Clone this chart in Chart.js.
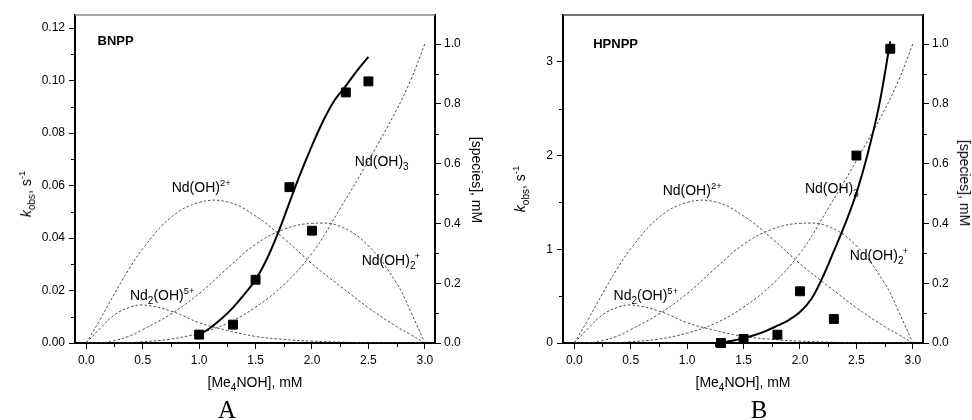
<!DOCTYPE html>
<html>
<head>
<meta charset="utf-8">
<script src="https://cdn.jsdelivr.net/npm/chart.js@4.4.0/dist/chart.umd.min.js"></script>
<style>
  body { margin:0; background:#fff; width:972px; height:420px; overflow:hidden; position:relative;
         font-family:"Liberation Sans", Arial, sans-serif; }
  canvas { position:absolute; top:0; }
  .t { position:absolute; white-space:nowrap; color:#000; font-size:14px; line-height:14px; }
  .sub { position:relative; top:3.5px; font-size:10px; }
  .sup { position:relative; top:-6px; font-size:9.5px; }
  .bold { font-weight:bold; font-size:13px; line-height:13px; }
  .panel { font-family:"Liberation Serif", "Times New Roman", serif; font-size:25px; line-height:25px; }
</style>
</head>
<body>
<canvas id="chartA" width="486" height="420" style="left:0px"></canvas>
<canvas id="chartB" width="486" height="420" style="left:488px"></canvas>
<script>
// ---- axis ticks ----
const xTicks = [0, 0.5, 1.0, 1.5, 2.0, 2.5, 3.0];
const xMinorTicks = [0.25, 0.75, 1.25, 1.75, 2.25, 2.75];
const speciesTicks = [0, 0.2, 0.4, 0.6, 0.8, 1.0];
const speciesMinorTicks = [0.1, 0.3, 0.5, 0.7, 0.9];
const kTicksBNPP = [0, 0.02, 0.04, 0.06, 0.08, 0.10, 0.12];
const kMinorTicksBNPP = [0.01, 0.03, 0.05, 0.07, 0.09, 0.11];
const kTicksHPNPP = [0, 1, 2, 3];
const kMinorTicksHPNPP = [0.5, 1.5, 2.5];

// ---- species distribution, mM (same in both panels) ----
const speciesX   = [0, 0.125, 0.25, 0.375, 0.5, 0.75, 1.0, 1.25, 1.5, 1.75, 2.0, 2.25, 2.5, 2.75, 2.875, 3.0];
const ndOH       = [0, 0.08, 0.165, 0.245, 0.315, 0.42, 0.47, 0.472, 0.425, 0.35, 0.265, 0.19, 0.118, 0.055, 0.028, 0];
const ndOH2      = [0, 0, 0.008, 0.022, 0.045, 0.097, 0.165, 0.25, 0.33, 0.38, 0.40, 0.39, 0.325, 0.20, 0.105, 0];
const ndOH3      = [0, 0, 0, 0.001, 0.004, 0.013, 0.033, 0.066, 0.12, 0.195, 0.30, 0.45, 0.61, 0.78, 0.88, 1.0];
const nd2OH      = [0, 0.05, 0.094, 0.118, 0.127, 0.107, 0.068, 0.042, 0.022, 0.012, 0.006, 0.003, 0.001, 0, 0, 0];

// ---- BNPP kinetics ----
const bnppX = [1.0, 1.3, 1.5, 1.8, 2.0, 2.3, 2.5];
const bnppK = [0.0032, 0.0070, 0.0241, 0.0594, 0.0428, 0.0955, 0.0997];
const bnppFitX = [1.0, 1.1, 1.2, 1.3, 1.4, 1.5, 1.6, 1.7, 1.8, 1.9, 2.0, 2.1, 2.2, 2.3, 2.4, 2.5];
const bnppFitK = [0.003, 0.0058, 0.0093, 0.0135, 0.0185, 0.0241, 0.032, 0.042, 0.0535, 0.0648, 0.0752, 0.0847, 0.0925, 0.098, 0.1038, 0.109];

// ---- HPNPP kinetics ----
const hpnppX = [1.3, 1.5, 1.8, 2.0, 2.3, 2.5, 2.8];
const hpnppK = [0.0, 0.043, 0.089, 0.552, 0.256, 2.0, 3.14];
const hpnppFitX = [1.3, 1.4, 1.5, 1.6, 1.7, 1.8, 1.9, 2.0, 2.1, 2.2, 2.3, 2.4, 2.5, 2.6, 2.7, 2.8];
const hpnppFitK = [0.005, 0.025, 0.052, 0.085, 0.13, 0.185, 0.245, 0.33, 0.47, 0.70, 0.98, 1.27, 1.60, 2.02, 2.53, 3.22];

const xy = (xs, ys) => xs.map((x, i) => ({ x: x, y: ys[i] }));

// frame top edge and minor tick marks
const framePlugin = {
  id: 'frame',
  afterDraw(chart, args, opts) {
    const ctx = chart.ctx, a = chart.chartArea, s = chart.scales;
    ctx.save();
    ctx.strokeStyle = opts.topColor;
    ctx.lineWidth = 1.5;
    ctx.beginPath(); ctx.moveTo(a.left, a.top); ctx.lineTo(a.right, a.top); ctx.stroke();
    ctx.strokeStyle = '#000';
    ctx.lineWidth = 1;
    ctx.beginPath();
    for (const v of xMinorTicks) {
      const p = Math.round(s.x.getPixelForValue(v)) + 0.5;
      ctx.moveTo(p, a.bottom); ctx.lineTo(p, a.bottom + 4);
    }
    for (const v of opts.kMinor) {
      const p = Math.round(s.y.getPixelForValue(v)) + 0.5;
      ctx.moveTo(a.left, p); ctx.lineTo(a.left - 4, p);
    }
    for (const v of speciesMinorTicks) {
      const p = Math.round(s.y2.getPixelForValue(v)) + 0.5;
      ctx.moveTo(a.right, p); ctx.lineTo(a.right + 4, p);
    }
    ctx.stroke();
    ctx.restore();
  }
};

const tickFont = { family: '"Liberation Sans", Arial, sans-serif', size: 12 };
const axisGrid = { drawOnChartArea: false, drawTicks: true, tickLength: 6, color: '#000', lineWidth: 1 };
const axisBorder = { display: true, color: '#000', width: 2 };

function speciesSet(values) {
  return { data: xy(speciesX, values), yAxisID: 'y2', showLine: true, borderColor: '#3a3a3a',
           borderWidth: 0.9, borderDash: [2.5, 2], pointRadius: 0, tension: 0.4, fill: false };
}

function makePanel(id, cfg) {
  return new Chart(document.getElementById(id), {
    type: 'scatter',
    data: {
      datasets: [
        { data: xy(cfg.px, cfg.pk), yAxisID: 'y', showLine: false, pointStyle: 'rect',
          pointRadius: 6.3, pointBackgroundColor: '#000', pointBorderColor: '#000',
          pointBorderWidth: 1, clip: false },
        { data: xy(cfg.fx, cfg.fk), yAxisID: 'y', showLine: true, borderColor: '#000',
          borderWidth: 2, pointRadius: 0, tension: 0.4, fill: false },
        speciesSet(ndOH), speciesSet(ndOH2), speciesSet(ndOH3), speciesSet(nd2OH)
      ]
    },
    options: {
      responsive: false, animation: false, devicePixelRatio: 1,
      layout: { padding: { top: 15, left: 0, right: 0, bottom: 0 } },
      plugins: { legend: { display: false }, tooltip: { enabled: false },
                 frame: { topColor: cfg.topColor, kMinor: cfg.kMinor } },
      scales: {
        x: {
          type: 'linear', position: 'bottom', min: -0.1, max: 3.09,
          afterFit: s => { s.height = 77; },
          afterBuildTicks: s => { s.ticks = xTicks.map(v => ({ value: v })); },
          ticks: { autoSkip: false, maxRotation: 0, padding: 4, color: '#000', font: tickFont,
                   callback: v => Number(v).toFixed(1) },
          grid: axisGrid, border: axisBorder
        },
        y: {
          type: 'linear', position: 'left', min: 0, max: cfg.kMax,
          afterFit: s => { s.width = 75; },
          afterBuildTicks: s => { s.ticks = cfg.kTicks.map(v => ({ value: v })); },
          ticks: { autoSkip: false, padding: 4, color: '#000', font: tickFont,
                   callback: v => Number(v).toFixed(cfg.kDigits) },
          grid: axisGrid, border: axisBorder
        },
        y2: {
          type: 'linear', position: 'right', min: 0, max: 1.097,
          afterFit: s => { s.width = 51; },
          afterBuildTicks: s => { s.ticks = speciesTicks.map(v => ({ value: v })); },
          ticks: { autoSkip: false, padding: 3, color: '#000', font: tickFont,
                   callback: v => Number(v).toFixed(1) },
          grid: axisGrid, border: axisBorder
        }
      }
    },
    plugins: [framePlugin]
  });
}

const chartA = makePanel('chartA', {
  px: bnppX, pk: bnppK, fx: bnppFitX, fk: bnppFitK,
  kTicks: kTicksBNPP, kMinor: kMinorTicksBNPP, kMax: 0.125, kDigits: 2, topColor: '#8a8a8a'
});
const chartB = makePanel('chartB', {
  px: hpnppX, pk: hpnppK, fx: hpnppFitX, fk: hpnppFitK,
  kTicks: kTicksHPNPP, kMinor: kMinorTicksHPNPP, kMax: 3.5, kDigits: 0, topColor: '#444'
});

// ---- text: axis titles, species names, panel letters ----
function addText(html, cls, left, top, transform) {
  const d = document.createElement('div');
  d.className = 't ' + (cls || '');
  d.innerHTML = html;
  d.style.left = left + 'px';
  d.style.top = top + 'px';
  if (transform) d.style.transform = transform;
  document.body.appendChild(d);
  return d;
}

const ndOHLabel  = 'Nd(OH)<span class="sup">2+</span>';
const ndOH2Label = 'Nd(OH)<span class="sub">2</span><span class="sup" style="margin-left:-1px">+</span>';
const ndOH3Label = 'Nd(OH)<span class="sub">3</span>';
const nd2OHLabel = 'Nd<span class="sub">2</span>(OH)<span class="sup">5+</span>';
const kTitle = '<i>k</i><span class="sub">obs</span>, s<span class="sup">-1</span>';
const xTitle = '[Me<span class="sub">4</span>NOH], mM';
const speciesTitle = '[species], mM';

function decorate(chart, offset, notes, letter, letterX, kTitleDx, kTitleCy, spTitleCy) {
  const a = chart.chartArea, sx = chart.scales.x, sy = chart.scales.y2;
  const base = fs => 0.8465 * fs;
  // text anchored at its left baseline, in data units of the species axis
  for (const n of notes) {
    const fs = n.bold ? 13 : 14;
    addText(n.html, n.bold ? 'bold' : '', offset + sx.getPixelForValue(n.x),
            sy.getPixelForValue(n.y) - base(fs));
  }
  const cx = offset + (a.left + a.right) / 2;
  addText(xTitle, '', cx, 387 - base(14), 'translateX(-50%)');
  addText(kTitle, '', offset + a.left - kTitleDx, kTitleCy - 7, 'translate(-50%,0) rotate(-90deg)');
  addText(speciesTitle, '', offset + a.right + 42, spTitleCy - 7, 'translate(-50%,0) rotate(90deg)');
  addText(letter, 'panel', offset + letterX, 418 - 0.8375 * 25, 'translateX(-50%)');
}

decorate(chartA, 0, [
  { html: 'BNPP', x: 0.10, y: 0.997, bold: true },
  { html: ndOHLabel, x: 0.757, y: 0.507 },
  { html: ndOH3Label, x: 2.38, y: 0.592 },
  { html: ndOH2Label, x: 2.44, y: 0.261 },
  { html: nd2OHLabel, x: 0.387, y: 0.144 }
], 'A', 227, 48, 193, 180);

decorate(chartB, 488, [
  { html: 'HPNPP', x: 0.168, y: 0.987, bold: true },
  { html: ndOHLabel, x: 0.783, y: 0.495 },
  { html: ndOH3Label, x: 2.044, y: 0.502 },
  { html: ndOH2Label, x: 2.44, y: 0.278 },
  { html: nd2OHLabel, x: 0.348, y: 0.144 }
], 'B', 271, 42, 188, 183);
</script>
</body>
</html>
